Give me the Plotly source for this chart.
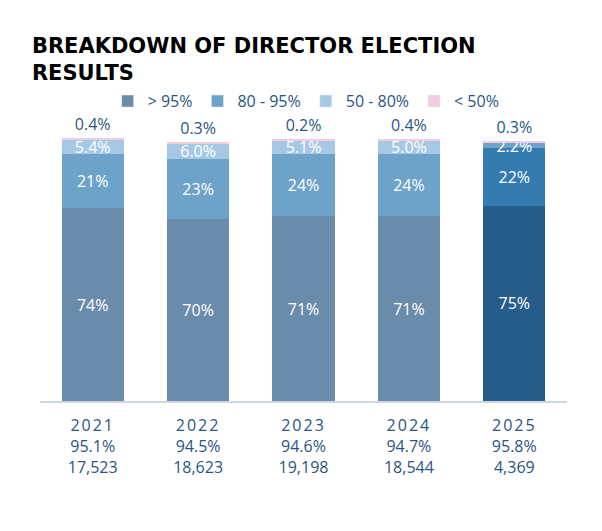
import plotly.graph_objects as go

years = ["2021", "2022", "2023", "2024", "2025"]
support_avg = ["95.1%", "94.5%", "94.6%", "94.7%", "95.8%"]
elections = ["17,523", "18,623", "19,198", "18,544", "4,369"]

series_names = ["> 95%", "80 - 95%", "50 - 80%", "< 50%"]
gt95 = [74, 70, 71, 71, 75]
s80_95 = [21, 23, 24, 24, 22]
s50_80 = [5.4, 6.0, 5.1, 5.0, 2.2]
lt50 = [0.4, 0.3, 0.2, 0.4, 0.3]

labels_gt95 = ["74%", "70%", "71%", "71%", "75%"]
labels_80_95 = ["21%", "23%", "24%", "24%", "22%"]
labels_50_80 = ["5.4%", "6.0%", "5.1%", "5.0%", "2.2%"]
labels_lt50 = ["0.4%", "0.3%", "0.2%", "0.4%", "0.3%"]

# colours: first four years muted, last year highlighted
col_gt95 = ["#6a8caa"] * 4 + ["#275d8a"]
col_80_95 = ["#6ea3c9"] * 4 + ["#357bb0"]
col_50_80 = ["#a6c8e4"] * 4 + ["#6ea3c9"]
col_lt50 = ["#f2cde0"] * 5

FONT = "Open Sans"
DARK = "#2a5585"

xlabels = [f"<span style='letter-spacing:2px'>{y}</span><br>{p}<br>{n}"
           for y, p, n in zip(years, support_avg, elections)]

fig = go.Figure()
data = [
    (series_names[0], gt95, labels_gt95, col_gt95, "#6a8caa", "inside", "white"),
    (series_names[1], s80_95, labels_80_95, col_80_95, "#6ea3c9", "inside", "white"),
    (series_names[2], s50_80, labels_50_80, col_50_80, "#a6c8e4", "inside", "white"),
    (series_names[3], lt50, labels_lt50, col_lt50, "#f2cde0", "outside", DARK),
]
for name, vals, labs, cols, legcol, pos, tcol in data:
    fig.add_trace(go.Bar(
        x=years, y=vals, name=name, text=labs,
        textposition=pos, insidetextanchor="middle",
        textfont=dict(color=tcol, size=16, family=FONT),
        marker=dict(color=cols, line=dict(width=0)),
        cliponaxis=False, showlegend=False, hoverinfo="skip",
    ))
    # legend proxy with uniform colour
    fig.add_trace(go.Bar(x=[None], y=[None], name=name,
                         marker=dict(color=legcol), showlegend=True))

fig.update_layout(
    barmode="stack",
    bargap=0.41,
    width=602, height=531,
    paper_bgcolor="white", plot_bgcolor="white",
    margin=dict(l=40, r=35, t=138, b=130),
    font=dict(family=FONT, color=DARK, size=16),
    uniformtext=dict(minsize=16, mode="show"),
    title=dict(text="<b>BREAKDOWN OF DIRECTOR ELECTION<br>RESULTS</b>",
               x=0.053, xanchor="left", y=0.90, yanchor="top",
               font=dict(family="DejaVu Sans", size=21, color="black")),
    legend=dict(orientation="h", x=0.505, xanchor="center", y=1.14, yanchor="middle",
                font=dict(size=16, color=DARK), itemwidth=30,
                traceorder="normal"),
    xaxis=dict(tickmode="array", tickvals=years, ticktext=xlabels,
               showline=True, linecolor="#d0d6de", linewidth=2,
               ticks="", ticklabelstandoff=9,
               tickfont=dict(size=16, color=DARK)),
    yaxis=dict(range=[0, 101], visible=False, showgrid=False),
)

fig.write_html("out.html", config={"displayModeBar": False},
               post_script="document.body.style.margin='0px';")
